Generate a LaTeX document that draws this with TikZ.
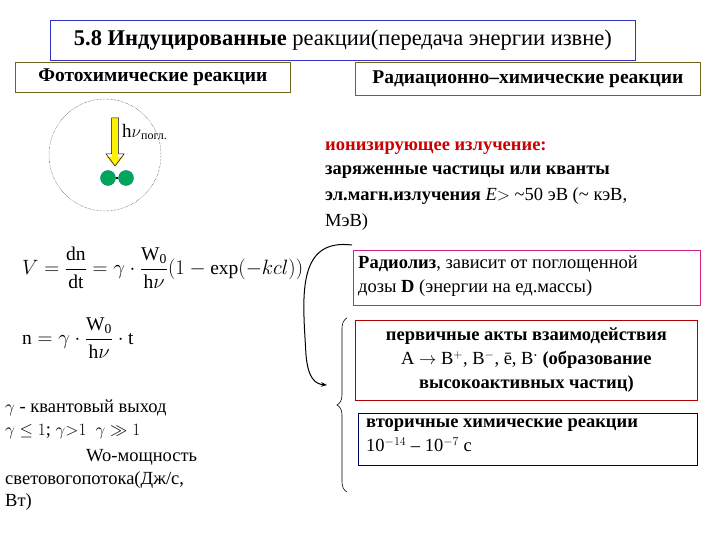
\documentclass[tikz,border=0pt]{standalone}
\usepackage{fontspec}
\setmainfont{Liberation Serif}
\usepackage{amsmath}
\usetikzlibrary{arrows.meta,decorations.pathreplacing}
\begin{document}
\begin{tikzpicture}[x=1pt,y=-1pt,
  txt/.style={anchor=west,inner sep=0pt,font=\fontsize{18.5}{24}\selectfont,align=left},
  bx/.style={draw,line width=0.8pt}]
\useasboundingbox[fill=white] (0,0) rectangle (720,540);
\node[bx,draw=blue!60!gray,minimum width=585,minimum height=40,anchor=north west,inner sep=0] (title) at (50,20) {};
\node[font=\fontsize{22.5}{26}\selectfont] at (title) {\textbf{5.8 Индуцированные} реакции(передача энергии извне)};
\node[bx,draw=olive!70!black,minimum width=275,minimum height=30,anchor=north west,inner sep=0] (photo) at (15,62) {};
\node[font=\fontsize{19.5}{22}\selectfont\bfseries] at (photo) {Фотохимические реакции};
\node[bx,draw=olive!70!black,minimum width=345,minimum height=33,anchor=north west,inner sep=0] (rad) at (355,62) {};
\node[font=\fontsize{19.5}{22}\selectfont\bfseries] at (rad) {Радиационно–химические реакции};
% circle
\node[draw,densely dotted,circle,minimum size=112] (circ) at (105,155) {};
\coordinate (a1) at (115,118); \coordinate (a2) at (115,166);
\draw[line width=6pt,yellow,-{Triangle[length=9pt,width=16pt]}] (a1) -- (a2);
\draw[line width=0.5pt] (111.5,118) -- (111.5,154) -- (106,154) -- (115,166) -- (124,154) -- (118.5,154) -- (118.5,118) -- cycle;
\node[anchor=west,inner sep=0,font=\fontsize{19}{20}\selectfont] (hv) at (122,132) {h$\nu$\raisebox{-2pt}{\fontsize{12}{12}\selectfont погл.}};
\node[circle,fill=teal!70!green,draw=teal,minimum size=15,inner sep=0] (b1) at (108,178) {};
\node[circle,fill=teal!70!green,draw=teal,minimum size=15,inner sep=0] (b2) at (126,178) {};
\draw[line width=1.5pt] (b1) -- (b2);
% formulas
\node[anchor=west,inner sep=0,font=\fontsize{19.5}{20}\selectfont] (f1) at (22,268) {$V=\dfrac{\mathrm{dn}}{\mathrm{dt}}=\gamma\cdot\dfrac{\mathrm{W_0}}{\mathrm{h}\nu}(1-\exp(-kcl))$};
\node[anchor=west,inner sep=0,font=\fontsize{19.5}{20}\selectfont] (f2) at (22,338) {$\mathrm{n}=\gamma\cdot\dfrac{\mathrm{W_0}}{\mathrm{h}\nu}\cdot\mathrm{t}$};
% left texts
\node[txt] (l1) at (5,408) {$\gamma$ - квантовый выход};
\node[txt] (l2) at (5,432) {$\gamma\le1$; $\gamma{>}1$\ \ $\gamma\gg1$};
\node[txt] (l3) at (86,457) {Wo-мощность};
\node[txt] (l4) at (5,480) {световогопотока(Дж/с,};
\node[txt] (l5) at (5,502) {Вт)};
% right texts
\node[txt,text=red!80!black,font=\fontsize{18.5}{24}\selectfont\bfseries] (r1) at (325,148) {ионизирующее излучение:};
\node[txt,font=\fontsize{18.5}{24}\selectfont\bfseries] (r2) at (325,172) {заряженные частицы или кванты};
\node[txt] (r3) at (325,196) {\textbf{эл.магн.излучения} \textit{E}$>$ \textasciitilde50 эВ (\textasciitilde\ кэВ,};
\node[txt] (r4) at (325,222) {МэВ)};
\node[bx,draw=magenta!70!violet,minimum width=347,minimum height=55,anchor=north west,inner sep=0] (radl) at (353,250) {};
\node[txt,anchor=north west] at (358,256) {\textbf{Радиолиз}, зависит от поглощенной\\дозы \textbf{D} (энергии на ед.массы)};
\node[bx,draw=red!70!black,minimum width=342,minimum height=80,anchor=north west,inner sep=0] (prim) at (355,320) {};
\node[font=\fontsize{18.5}{24}\selectfont\bfseries,align=center] at (prim) {первичные акты взаимодействия\\\mdseries A $\rightarrow$ B$^+$, B$^-$, ē,\ B$^{\boldsymbol{\cdot}}$ \bfseries(образование\\высокоактивных частиц)};
\node[bx,draw=blue!40!black,minimum width=339,minimum height=52,anchor=north west,inner sep=0] (sec) at (358,413) {};
\node[txt,anchor=north west] at (366,419) {\textbf{вторичные химические реакции}\\10$^{-14}$ -- 10$^{-7}$ с};
% curved arrow and brace
\coordinate (c1) at (352,245); \coordinate (c2) at (327,385);
\draw[line width=1pt,-{Stealth[length=6pt]}] (c1) .. controls (295,238) and (303,300) .. (306,355) .. controls (308,378) and (315,384) .. (c2);
\draw[line width=0.6pt,decorate,decoration={brace,amplitude=10pt,mirror}] (347,318) -- (347,492);
\end{tikzpicture}
\end{document}
